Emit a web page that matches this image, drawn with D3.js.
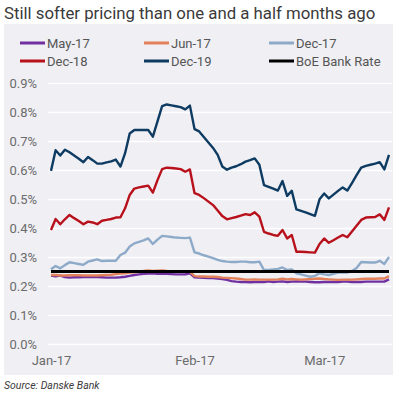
<!DOCTYPE html>
<html>
<head>
<meta charset="utf-8">
<script src="https://cdn.jsdelivr.net/npm/d3@7"></script>
<style>
  body { margin: 0; background: #fff; }
  svg { display: block; font-family: Roboto, "Noto Sans", sans-serif; }
</style>
</head>
<body>
<svg id="chart"></svg>
<script>
// daily observations, 1 Jan 2017 .. 15 Mar 2017 (values in %)
const start_date = '2017-01-01';
const end_date = '2017-03-15';
const month_ticks = ['2017-01-01', '2017-02-01', '2017-03-01'];
const y_ticks = [0, 0.1, 0.2, 0.3, 0.4, 0.5, 0.6, 0.7, 0.8, 0.9];

const series_names = ['May-17', 'Jun-17', 'Dec-17', 'Dec-18', 'Dec-19', 'BoE Bank Rate'];

const may17 = [0.236,0.233,0.236,0.231,0.229,0.230,0.230,0.231,0.231,0.232,0.231,0.230,0.229,0.229,0.229,0.230,0.232,0.235,0.238,0.240,
  0.242,0.243,0.244,0.242,0.243,0.242,0.241,0.240,0.240,0.240,0.244,0.230,0.229,0.228,0.227,0.227,0.226,0.224,0.221,0.217,
  0.215,0.214,0.214,0.213,0.214,0.214,0.214,0.216,0.214,0.215,0.216,0.214,0.215,0.216,0.215,0.215,0.214,0.213,0.213,0.214,
  0.214,0.214,0.214,0.215,0.215,0.214,0.214,0.214,0.215,0.215,0.215,0.215,0.215,0.223];
const jun17 = [0.238,0.238,0.236,0.236,0.237,0.237,0.237,0.236,0.236,0.236,0.236,0.237,0.238,0.239,0.241,0.243,0.244,0.246,0.247,0.249,
  0.252,0.254,0.252,0.253,0.254,0.252,0.251,0.250,0.250,0.249,0.249,0.234,0.233,0.233,0.232,0.232,0.231,0.229,0.228,0.227,
  0.226,0.224,0.222,0.222,0.223,0.222,0.222,0.222,0.222,0.223,0.225,0.223,0.224,0.223,0.222,0.223,0.224,0.225,0.226,0.224,
  0.223,0.222,0.221,0.222,0.222,0.222,0.223,0.224,0.225,0.225,0.225,0.226,0.226,0.234];
const dec17 = [0.258,0.269,0.261,0.272,0.282,0.279,0.276,0.273,0.284,0.288,0.292,0.286,0.287,0.287,0.287,0.307,0.315,0.336,0.347,0.352,
  0.357,0.364,0.345,0.360,0.373,0.371,0.369,0.367,0.366,0.365,0.367,0.316,0.312,0.306,0.301,0.296,0.290,0.286,0.284,0.283,
  0.283,0.284,0.284,0.282,0.282,0.284,0.255,0.255,0.257,0.259,0.264,0.255,0.257,0.244,0.240,0.236,0.232,0.235,0.244,0.240,
  0.238,0.242,0.246,0.246,0.246,0.252,0.262,0.283,0.282,0.281,0.281,0.287,0.276,0.300];
const dec18 = [0.393,0.431,0.413,0.430,0.445,0.434,0.424,0.413,0.422,0.419,0.413,0.425,0.428,0.431,0.436,0.437,0.468,0.514,0.536,0.540,
  0.543,0.546,0.522,0.565,0.603,0.608,0.607,0.605,0.603,0.594,0.602,0.520,0.514,0.503,0.491,0.479,0.460,0.441,0.430,0.434,
  0.438,0.443,0.448,0.445,0.454,0.439,0.387,0.381,0.376,0.373,0.393,0.364,0.376,0.318,0.318,0.317,0.316,0.315,0.345,0.364,
  0.349,0.358,0.367,0.376,0.368,0.388,0.408,0.428,0.436,0.437,0.438,0.447,0.428,0.471];
const dec19 = [0.597,0.668,0.650,0.670,0.661,0.650,0.639,0.627,0.645,0.634,0.622,0.622,0.626,0.630,0.636,0.612,0.658,0.726,0.738,0.738,
  0.738,0.738,0.715,0.768,0.820,0.826,0.823,0.820,0.817,0.809,0.822,0.741,0.733,0.714,0.695,0.676,0.652,0.612,0.601,0.608,
  0.613,0.620,0.629,0.634,0.640,0.618,0.548,0.542,0.536,0.529,0.562,0.511,0.528,0.464,0.459,0.454,0.448,0.442,0.499,0.519,
  0.502,0.515,0.528,0.540,0.529,0.555,0.582,0.608,0.614,0.618,0.622,0.627,0.602,0.652];
const boe_rate = 0.25;

const series_colors = ['#7030a0', '#e2815a', '#8eaac9', '#b8111c', '#0d3b61', '#000000'];

class LineChart {
    constructor (config) {
        this.config = {
            parent: config.parent,
            width: config.width || 400,
            height: config.height || 395,
            margin: config.margin || {top: 83, right: 11, bottom: 51, left: 51},
            title: config.title || ''
        };
        this.format_data();
        this.init();
        this.render();
    }

    format_data() {
        let self = this;
        const parse = d3.timeParse('%Y-%m-%d');
        self.dates = d3.timeDay.range(parse(start_date), d3.timeDay.offset(parse(end_date), 1));
        self.ticks = month_ticks.map(parse);
        const values = [may17, jun17, dec17, dec18, dec19, self.dates.map(() => boe_rate)];
        self.data = series_names.map((name, k) => ({
            name: name,
            color: series_colors[k],
            points: self.dates.map((d, i) => ({date: d, value: values[k][i]}))
        }));
    }

    init() {
        let self = this;
        const c = self.config;
        self.svg = d3.select(c.parent)
            .attr('width', c.width)
            .attr('height', c.height);

        // grey panel
        self.svg.append('rect')
            .attr('x', 4).attr('y', 24)
            .attr('width', 389).attr('height', 351)
            .attr('fill', '#efeff4');

        self.svg.append('text')
            .attr('x', 4).attr('y', 19)
            .attr('fill', '#3a3a3a')
            .style('font-size', '16.8px')
            .text(c.title);

        self.x = d3.scaleTime()
            .domain(d3.extent(self.dates))
            .range([c.margin.left, c.width - c.margin.right]);
        self.y = d3.scaleLinear()
            .domain([0, 0.9])
            .range([c.height - c.margin.bottom, c.margin.top]);
    }

    render() {
        let self = this;
        const c = self.config;
        const x0 = self.x.range()[0] - 3, x1 = self.x.range()[1] + 3;

        // gridlines + y labels
        const y_axis = self.svg.append('g')
            .attr('transform', `translate(${x0},0)`)
            .call(d3.axisLeft(self.y)
                .tickValues(y_ticks)
                .tickSize(-(x1 - x0))
                .tickPadding(11)
                .tickFormat(d => d.toFixed(1) + '%'));
        y_axis.select('.domain').remove();
        y_axis.selectAll('line').attr('stroke', '#ffffff').attr('stroke-width', 1.6);
        y_axis.selectAll('text')
            .attr('fill', '#6b6b6b')
            .style('font-size', '13px')
            .style('font-family', 'Roboto, sans-serif');

        // x labels
        const x_axis = self.svg.append('g')
            .attr('transform', `translate(0,${self.y(0) + 4})`)
            .call(d3.axisBottom(self.x)
                .tickValues(self.ticks)
                .tickSize(0)
                .tickPadding(8)
                .tickFormat(d3.timeFormat('%b-%y')));
        x_axis.select('.domain').remove();
        x_axis.selectAll('text')
            .attr('fill', '#6b6b6b')
            .style('font-size', '13px')
            .style('font-family', 'Roboto, sans-serif');

        const line = d3.line()
            .x(d => self.x(d.date))
            .y(d => self.y(d.value));

        self.svg.append('g').selectAll('path')
            .data(self.data)
            .join('path')
            .attr('d', d => line(d.points))
            .attr('fill', 'none')
            .attr('stroke', d => d.color)
            .attr('stroke-width', d => d.name == 'BoE Bank Rate' ? 3 : 2.4)
            .attr('stroke-linejoin', 'round');

        // legend
        const legend = self.svg.append('g');
        const col_x = [20, 144, 269];
        const row_y = [43, 61];
        self.data.forEach((s, k) => {
            const lx = col_x[k % 3], ly = row_y[Math.floor(k / 3)];
            legend.append('line')
                .attr('x1', lx).attr('x2', lx + 25)
                .attr('y1', ly).attr('y2', ly)
                .attr('stroke', s.color)
                .attr('stroke-width', 3);
            legend.append('text')
                .attr('x', lx + 27).attr('y', ly + 4.5)
                .attr('fill', '#555555')
                .style('font-size', '13px')
                .text(s.name);
        });

        self.svg.append('text')
            .attr('x', 4).attr('y', 389)
            .attr('fill', '#3a3a3a')
            .style('font-size', '10.5px')
            .style('font-style', 'italic')
            .text('Source: Danske Bank');
    }
}

new LineChart({
    parent: '#chart',
    width: 400,
    height: 395,
    margin: {top: 83, right: 11, bottom: 51, left: 51},
    title: 'Still softer pricing than one and a half months ago'
});
</script>
</body>
</html>
